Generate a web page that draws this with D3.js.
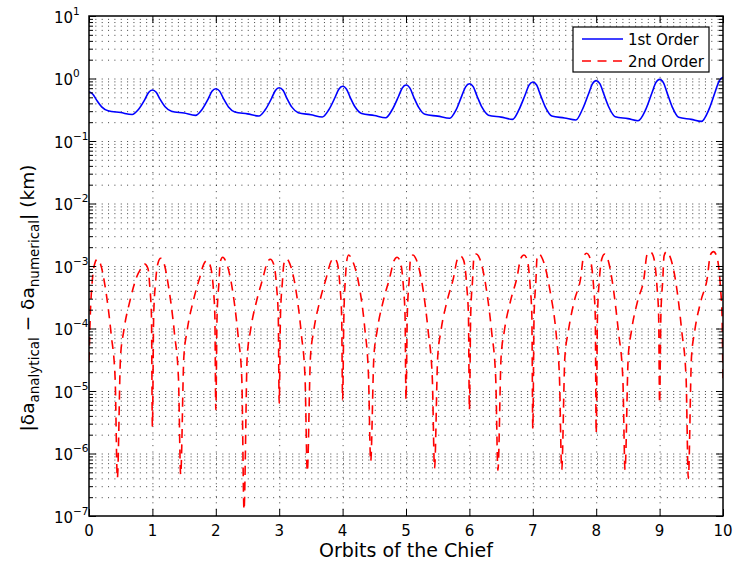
<!DOCTYPE html>
<html>
<head>
<meta charset="utf-8">
<script src="https://cdn.jsdelivr.net/npm/d3@7"></script>
<style>
  body { margin: 0; background: #fff; }
  svg { display: block; }
  text { font-family: "DejaVu Sans", "Liberation Sans", sans-serif; fill: #000; }
</style>
</head>
<body>
<svg id="chart" width="734" height="567"></svg>
<script>
// Error of the first-order solution, [orbit, km]
const firstOrder = [
  [0.00,0.615],[0.06,0.560],[0.12,0.451],[0.20,0.352],[0.30,0.305],[0.50,0.285],[0.68,0.265],[0.78,0.320],[0.88,0.460],[0.94,0.597],
  [1.00,0.655],[1.06,0.602],[1.12,0.467],[1.20,0.353],[1.30,0.300],[1.50,0.280],[1.68,0.257],[1.78,0.317],[1.88,0.472],[1.94,0.623],
  [2.00,0.687],[2.06,0.628],[2.12,0.478],[2.20,0.351],[2.30,0.292],[2.50,0.272],[2.68,0.251],[2.78,0.316],[2.88,0.482],[2.94,0.644],
  [3.00,0.713],[3.06,0.649],[3.12,0.486],[3.20,0.348],[3.30,0.284],[3.50,0.263],[3.68,0.242],[3.78,0.313],[3.88,0.496],[3.94,0.674],
  [4.00,0.750],[4.06,0.679],[4.12,0.498],[4.20,0.346],[4.30,0.275],[4.50,0.256],[4.68,0.236],[4.78,0.313],[4.88,0.511],[4.94,0.703],
  [5.00,0.785],[5.06,0.707],[5.12,0.510],[5.20,0.345],[5.30,0.267],[5.50,0.250],[5.69,0.231],[5.79,0.314],[5.88,0.528],[5.94,0.736],
  [6.00,0.825],[6.06,0.740],[6.12,0.525],[6.20,0.344],[6.30,0.259],[6.50,0.241],[6.68,0.222],[6.78,0.314],[6.88,0.551],[6.94,0.781],
  [7.00,0.880],[7.06,0.786],[7.12,0.547],[7.20,0.345],[7.30,0.251],[7.50,0.234],[7.68,0.217],[7.78,0.316],[7.88,0.571],[7.94,0.819],
  [8.00,0.925],[8.06,0.823],[8.12,0.565],[8.20,0.347],[8.30,0.245],[8.50,0.228],[8.66,0.211],[8.78,0.317],[8.88,0.591],[8.94,0.856],
  [9.00,0.970],[9.06,0.860],[9.12,0.583],[9.20,0.349],[9.30,0.239],[9.50,0.222],[9.66,0.206],[9.78,0.323],[9.88,0.626],[9.94,0.919],
  [10.00,1.045]
];

// Error of the second-order solution, [orbit, km]
const secondOrder = [
  [0.000,3.0e-5],[0.020,1.6e-4],[0.050,5.5e-4],[0.090,1.09e-3],[0.130,1.28e-3],[0.180,1.09e-3],[0.250,5.0e-4],[0.350,8.0e-5],[0.412,1.6e-5],[0.447,4.0e-7],[0.497,3.5e-5],[0.547,9.0e-5],[0.647,2.8e-4],[0.747,6.5e-4],[0.830,9.4e-4],[0.880,1.07e-3],[0.930,9.1e-4],[0.960,4.5e-4],[0.985,1.6e-4],
  [1.000,2.7e-6],[1.020,1.6e-4],[1.050,5.5e-4],[1.090,1.13e-3],[1.130,1.33e-3],[1.180,1.13e-3],[1.250,5.0e-4],[1.350,8.0e-5],[1.411,1.6e-5],[1.446,4.6e-7],[1.496,3.5e-5],[1.546,9.0e-5],[1.646,2.8e-4],[1.746,6.5e-4],[1.810,1.07e-3],[1.860,1.22e-3],[1.910,1.04e-3],[1.960,4.5e-4],[1.985,1.6e-4],
  [2.000,5.0e-6],[2.020,1.6e-4],[2.050,5.5e-4],[2.070,1.17e-3],[2.110,1.38e-3],[2.160,1.17e-3],[2.250,5.0e-4],[2.350,8.0e-5],[2.410,1.6e-5],[2.445,1.26e-7],[2.495,3.5e-5],[2.545,9.0e-5],[2.645,2.8e-4],[2.745,6.5e-4],[2.810,1.13e-3],[2.860,1.28e-3],[2.910,1.09e-3],[2.960,4.5e-4],[2.985,1.6e-4],
  [3.000,6.4e-6],[3.020,1.6e-4],[3.050,5.5e-4],[3.075,1.10e-3],[3.115,1.30e-3],[3.165,1.10e-3],[3.250,5.0e-4],[3.350,8.0e-5],[3.408,1.6e-5],[3.443,5.1e-7],[3.493,3.5e-5],[3.543,9.0e-5],[3.643,2.8e-4],[3.743,6.5e-4],[3.815,1.17e-3],[3.865,1.33e-3],[3.915,1.13e-3],[3.960,4.5e-4],[3.985,1.6e-4],
  [4.000,7.2e-6],[4.020,1.6e-4],[4.045,6.5e-4],[4.065,1.20e-3],[4.095,1.50e-3],[4.145,1.28e-3],[4.250,5.5e-4],[4.350,1.0e-4],[4.408,1.8e-5],[4.443,7.4e-7],[4.493,3.5e-5],[4.543,9.0e-5],[4.643,2.8e-4],[4.743,6.5e-4],[4.810,1.21e-3],[4.860,1.38e-3],[4.910,1.17e-3],[4.960,4.5e-4],[4.985,1.6e-4],
  [5.000,7.2e-6],[5.020,1.6e-4],[5.050,6.0e-4],[5.070,1.28e-3],[5.110,1.50e-3],[5.160,1.28e-3],[5.250,5.5e-4],[5.350,9.0e-5],[5.415,1.6e-5],[5.450,5.8e-7],[5.500,3.5e-5],[5.550,9.0e-5],[5.650,2.8e-4],[5.750,6.5e-4],[5.810,1.28e-3],[5.860,1.45e-3],[5.910,1.23e-3],[5.960,4.5e-4],[5.985,1.6e-4],
  [6.000,5.0e-6],[6.020,1.6e-4],[6.050,6.0e-4],[6.070,1.33e-3],[6.110,1.56e-3],[6.160,1.33e-3],[6.250,5.5e-4],[6.350,9.0e-5],[6.415,1.6e-5],[6.450,5.4e-7],[6.500,3.5e-5],[6.550,9.0e-5],[6.650,2.8e-4],[6.750,6.5e-4],[6.810,1.32e-3],[6.860,1.50e-3],[6.910,1.28e-3],[6.960,4.5e-4],[6.985,1.6e-4],
  [7.000,2.5e-6],[7.020,1.6e-4],[7.050,6.0e-4],[7.065,1.30e-3],[7.100,1.55e-3],[7.150,1.32e-3],[7.270,4.1e-4],[7.377,6.6e-5],[7.421,1.6e-5],[7.456,5.5e-7],[7.506,3.5e-5],[7.560,9.0e-5],[7.656,2.8e-4],[7.756,6.5e-4],[7.800,1.41e-3],[7.850,1.60e-3],[7.900,1.36e-3],[7.960,4.5e-4],[7.985,1.6e-4],
  [8.000,2.1e-6],[8.020,1.6e-4],[8.050,6.0e-4],[8.090,1.32e-3],[8.130,1.55e-3],[8.180,1.32e-3],[8.250,6.0e-4],[8.350,9.0e-5],[8.420,1.6e-5],[8.455,5.5e-7],[8.505,3.5e-5],[8.555,9.0e-5],[8.655,2.8e-4],[8.755,6.5e-4],[8.800,1.50e-3],[8.850,1.70e-3],[8.900,1.45e-3],[8.960,4.5e-4],[8.985,1.6e-4],
  [9.000,6.3e-6],[9.020,1.6e-4],[9.050,6.0e-4],[9.070,1.45e-3],[9.110,1.70e-3],[9.160,1.45e-3],[9.250,6.0e-4],[9.350,9.0e-5],[9.418,1.6e-5],[9.453,4.0e-7],[9.503,3.5e-5],[9.553,9.0e-5],[9.653,2.8e-4],[9.753,6.5e-4],[9.800,1.50e-3],[9.850,1.70e-3],[9.900,1.45e-3],[9.960,4.5e-4],[9.985,1.6e-4],
  [10.000,1.3e-5]
];

const xTickValues = [0, 1, 2, 3, 4, 5, 6, 7, 8, 9, 10];
const yExponents = [1, 0, -1, -2, -3, -4, -5, -6, -7];
const seriesNames = ["1st Order", "2nd Order"];
const seriesColors = ["#0000ff", "#ff0000"];

const W = 734, H = 567;
const margin = { left: 89, top: 16, right: 11, bottom: 51 };
const pw = W - margin.left - margin.right;
const ph = H - margin.top - margin.bottom;

const svg = d3.select("#chart");
const g = svg.append("g").attr("transform", `translate(${margin.left},${margin.top})`);

const x = d3.scaleLinear().domain([0, 10]).range([0, pw]);
const y = d3.scaleLog().domain([1e-7, 10]).range([ph, 0]);

const decades = yExponents.map(e => Math.pow(10, e));
const minorVals = [];
for (let e = -7; e < 1; e++) {
  for (let k = 2; k <= 9; k++) minorVals.push(k * Math.pow(10, e));
}

// dotted grid: every log step horizontally, every orbit vertically
const gridStyle = sel => sel.selectAll("line")
  .attr("stroke", "#000").attr("stroke-width", 1)
  .attr("stroke-dasharray", "1,5.35").attr("stroke-opacity", 0.75);

g.append("g")
  .call(d3.axisLeft(y).tickValues(decades.concat(minorVals).filter(v => v > 1e-7 && v < 10))
    .tickSize(-pw).tickFormat(""))
  .call(a => a.select(".domain").remove())
  .call(gridStyle);

g.append("g")
  .attr("transform", `translate(0,${ph})`)
  .call(d3.axisBottom(x).tickValues(xTickValues.slice(1, -1)).tickSize(-ph).tickFormat(""))
  .call(a => a.select(".domain").remove())
  .call(gridStyle);

// curves
g.append("clipPath").attr("id", "plotclip")
  .append("rect").attr("width", pw).attr("height", ph);

const line = d3.line()
  .x(d => x(d[0]))
  .y(d => y(d[1]))
  .curve(d3.curveMonotoneX);

const plot = g.append("g").attr("clip-path", "url(#plotclip)");
plot.append("path").datum(firstOrder)
  .attr("d", line).attr("fill", "none")
  .attr("stroke", seriesColors[0]).attr("stroke-width", 1.6)
  .attr("stroke-linejoin", "round");
plot.append("path").datum(secondOrder)
  .attr("d", line).attr("fill", "none")
  .attr("stroke", seriesColors[1]).attr("stroke-width", 1.6)
  .attr("stroke-dasharray", "9,6.5");

// axes box with inward ticks on all four sides
const tickStyle = sel => {
  sel.select(".domain").remove();
  sel.selectAll("line").attr("stroke", "#000").attr("stroke-width", 1);
};
g.append("g").call(d3.axisLeft(y).tickValues(decades).tickSize(-7).tickFormat("")).call(tickStyle);
g.append("g").call(d3.axisLeft(y).tickValues(minorVals).tickSize(-4).tickFormat("")).call(tickStyle);
g.append("g").attr("transform", `translate(${pw},0)`)
  .call(d3.axisRight(y).tickValues(decades).tickSize(-7).tickFormat("")).call(tickStyle);
g.append("g").attr("transform", `translate(${pw},0)`)
  .call(d3.axisRight(y).tickValues(minorVals).tickSize(-4).tickFormat("")).call(tickStyle);
g.append("g").attr("transform", `translate(0,${ph})`)
  .call(d3.axisBottom(x).tickValues(xTickValues).tickSize(-7).tickFormat("")).call(tickStyle);
g.append("g")
  .call(d3.axisTop(x).tickValues(xTickValues).tickSize(-7).tickFormat("")).call(tickStyle);

g.append("rect").attr("width", pw).attr("height", ph)
  .attr("fill", "none").attr("stroke", "#000").attr("stroke-width", 1.5);

// tick labels
const xl = g.append("g");
xTickValues.forEach(v => {
  xl.append("text").attr("x", x(v)).attr("y", ph + 20)
    .attr("text-anchor", "middle").style("font-size", "15px").text(v);
});

const yl = g.append("g");
yExponents.forEach(e => {
  const yy = y(Math.pow(10, e));
  yl.append("text").attr("x", -16).attr("y", yy + 6.5)
    .attr("text-anchor", "end").style("font-size", "15px").text("10");
  yl.append("text").attr("x", -16).attr("y", yy - 1.5)
    .attr("text-anchor", "start").style("font-size", "10.5px")
    .text(e < 0 ? "\u2212" + (-e) : String(e));
});

// axis titles
svg.append("text")
  .attr("x", margin.left + pw / 2).attr("y", 557)
  .attr("text-anchor", "middle").style("font-size", "19px")
  .text("Orbits of the Chief");

const ylab = svg.append("text")
  .attr("transform", "translate(34,298) rotate(-90)")
  .attr("text-anchor", "middle").style("font-size", "18.5px");
ylab.append("tspan").text("|\u03b4a");
ylab.append("tspan").attr("dy", 5).style("font-size", "13.5px").text("analytical");
ylab.append("tspan").attr("dy", -5).text(" \u2212 \u03b4a");
ylab.append("tspan").attr("dy", 5).style("font-size", "13.5px").text("numerical");
ylab.append("tspan").attr("dy", -5).text("| (km)");

// legend
const lg = svg.append("g").attr("transform", "translate(573,27)");
lg.append("rect").attr("width", 136).attr("height", 45)
  .attr("fill", "#fff").attr("stroke", "#000").attr("stroke-width", 1.2);
seriesNames.forEach((name, i) => {
  const cy = 12 + i * 22;
  lg.append("line").attr("x1", 9).attr("x2", 50).attr("y1", cy).attr("y2", cy)
    .attr("stroke", seriesColors[i]).attr("stroke-width", 1.6)
    .attr("stroke-dasharray", i === 1 ? "9,6.5" : null);
  lg.append("text").attr("x", 55).attr("y", cy + 6)
    .style("font-size", "15px").text(name);
});
</script>
</body>
</html>
